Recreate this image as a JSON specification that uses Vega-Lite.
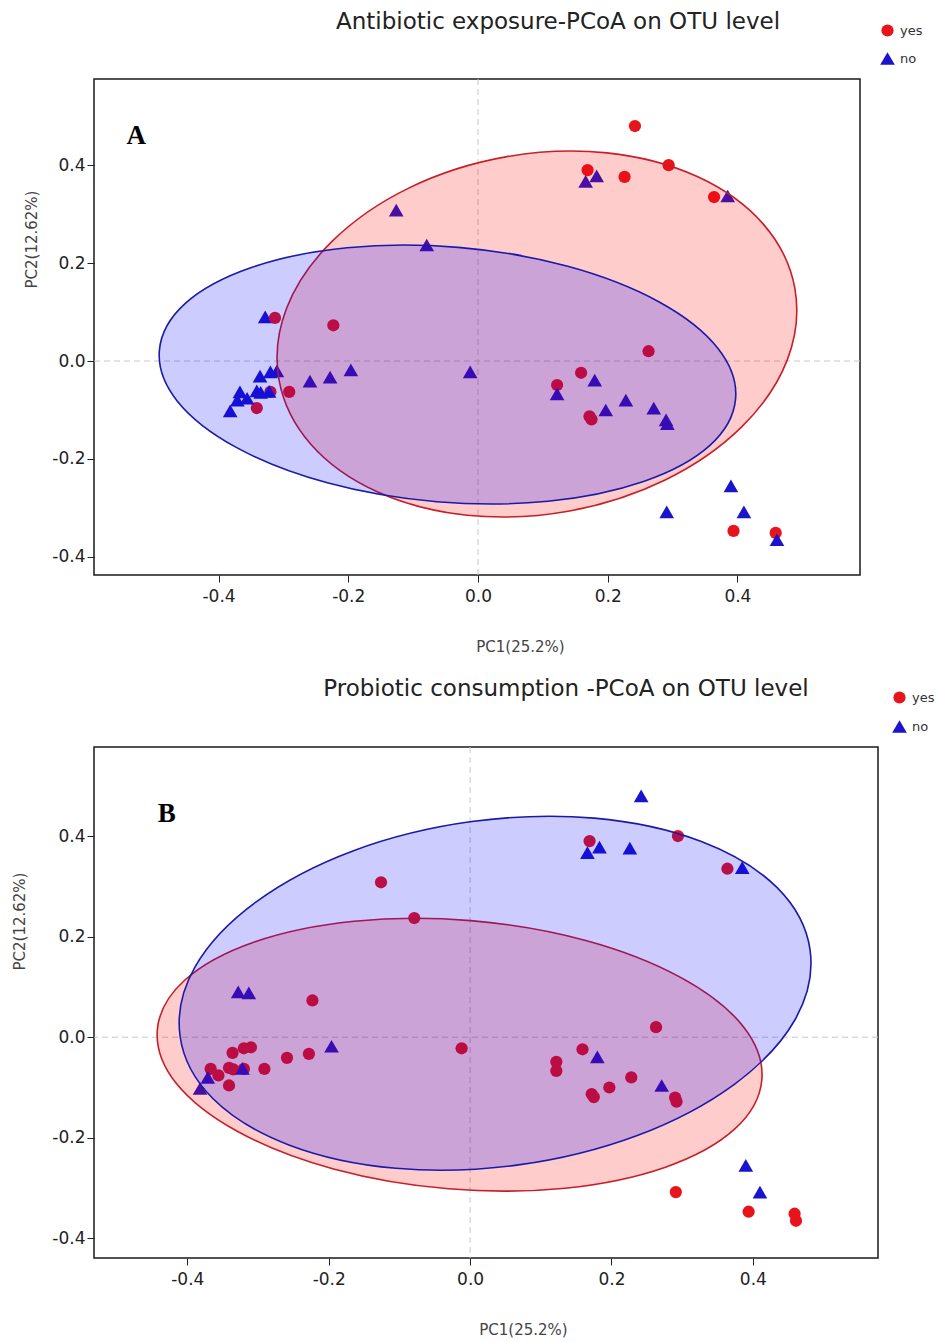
{
  "$schema": "https://vega.github.io/schema/vega-lite/v6.json",
  "background": "white",
  "padding": {"left": 11, "top": 10, "right": 5, "bottom": 2},
  "spacing": 22,
  "resolve": {
    "scale": {"color": "independent", "shape": "independent", "size": "independent"},
    "legend": {"color": "independent", "shape": "independent", "size": "independent"}
  },
  "datasets": {
    "samples": [
      {"pc1": 0.242, "pc2": 0.480, "antibiotic": "yes", "probiotic": "no"},
      {"pc1": 0.169, "pc2": 0.390, "antibiotic": "yes", "probiotic": "yes"},
      {"pc1": 0.226, "pc2": 0.376, "antibiotic": "yes", "probiotic": "no"},
      {"pc1": 0.294, "pc2": 0.400, "antibiotic": "yes", "probiotic": "yes"},
      {"pc1": 0.364, "pc2": 0.335, "antibiotic": "yes", "probiotic": "yes"},
      {"pc1": 0.166, "pc2": 0.367, "antibiotic": "no", "probiotic": "no"},
      {"pc1": 0.183, "pc2": 0.378, "antibiotic": "no", "probiotic": "no"},
      {"pc1": 0.385, "pc2": 0.337, "antibiotic": "no", "probiotic": "no"},
      {"pc1": -0.126, "pc2": 0.308, "antibiotic": "no", "probiotic": "yes"},
      {"pc1": -0.079, "pc2": 0.237, "antibiotic": "no", "probiotic": "yes"},
      {"pc1": -0.328, "pc2": 0.090, "antibiotic": "no", "probiotic": "no"},
      {"pc1": -0.313, "pc2": 0.088, "antibiotic": "yes", "probiotic": "no"},
      {"pc1": -0.223, "pc2": 0.073, "antibiotic": "yes", "probiotic": "yes"},
      {"pc1": 0.263, "pc2": 0.020, "antibiotic": "yes", "probiotic": "yes"},
      {"pc1": 0.159, "pc2": -0.024, "antibiotic": "yes", "probiotic": "yes"},
      {"pc1": 0.122, "pc2": -0.049, "antibiotic": "yes", "probiotic": "yes"},
      {"pc1": 0.122, "pc2": -0.067, "antibiotic": "no", "probiotic": "yes"},
      {"pc1": 0.180, "pc2": -0.039, "antibiotic": "no", "probiotic": "no"},
      {"pc1": 0.197, "pc2": -0.100, "antibiotic": "no", "probiotic": "yes"},
      {"pc1": 0.228, "pc2": -0.080, "antibiotic": "no", "probiotic": "yes"},
      {"pc1": 0.271, "pc2": -0.096, "antibiotic": "no", "probiotic": "no"},
      {"pc1": 0.290, "pc2": -0.120, "antibiotic": "no", "probiotic": "yes"},
      {"pc1": 0.292, "pc2": -0.128, "antibiotic": "no", "probiotic": "yes"},
      {"pc1": 0.172, "pc2": -0.113, "antibiotic": "yes", "probiotic": "yes"},
      {"pc1": 0.175, "pc2": -0.119, "antibiotic": "yes", "probiotic": "yes"},
      {"pc1": 0.291, "pc2": -0.308, "antibiotic": "no", "probiotic": "yes"},
      {"pc1": 0.390, "pc2": -0.255, "antibiotic": "no", "probiotic": "no"},
      {"pc1": 0.410, "pc2": -0.308, "antibiotic": "no", "probiotic": "no"},
      {"pc1": 0.394, "pc2": -0.347, "antibiotic": "yes", "probiotic": "yes"},
      {"pc1": 0.459, "pc2": -0.351, "antibiotic": "yes", "probiotic": "yes"},
      {"pc1": 0.461, "pc2": -0.365, "antibiotic": "no", "probiotic": "yes"},
      {"pc1": -0.012, "pc2": -0.022, "antibiotic": "no", "probiotic": "yes"},
      {"pc1": -0.196, "pc2": -0.018, "antibiotic": "no", "probiotic": "no"},
      {"pc1": -0.228, "pc2": -0.033, "antibiotic": "no", "probiotic": "yes"},
      {"pc1": -0.259, "pc2": -0.041, "antibiotic": "no", "probiotic": "yes"},
      {"pc1": -0.320, "pc2": -0.022, "antibiotic": "no", "probiotic": "yes"},
      {"pc1": -0.336, "pc2": -0.031, "antibiotic": "no", "probiotic": "yes"},
      {"pc1": -0.320, "pc2": -0.063, "antibiotic": "yes", "probiotic": "yes"},
      {"pc1": -0.291, "pc2": -0.063, "antibiotic": "yes", "probiotic": "yes"},
      {"pc1": -0.341, "pc2": -0.096, "antibiotic": "yes", "probiotic": "yes"},
      {"pc1": -0.367, "pc2": -0.063, "antibiotic": "no", "probiotic": "yes"},
      {"pc1": -0.341, "pc2": -0.061, "antibiotic": "no", "probiotic": "yes"},
      {"pc1": -0.371, "pc2": -0.080, "antibiotic": "no", "probiotic": "no"},
      {"pc1": -0.382, "pc2": -0.102, "antibiotic": "no", "probiotic": "no"},
      {"pc1": -0.356, "pc2": -0.076, "antibiotic": "no", "probiotic": "yes"},
      {"pc1": -0.335, "pc2": -0.064, "antibiotic": "no", "probiotic": "yes"},
      {"pc1": -0.322, "pc2": -0.062, "antibiotic": "no", "probiotic": "no"},
      {"pc1": -0.310, "pc2": -0.020, "antibiotic": "no", "probiotic": "yes"}
    ],
    "ellipses": [
      {"panel": "A", "group": "yes", "i": 0, "pc1": 0.4886, "pc2": 0.1482},
      {"panel": "A", "group": "yes", "i": 1, "pc1": 0.4769, "pc2": 0.0024},
      {"panel": "A", "group": "yes", "i": 2, "pc1": 0.4062, "pc2": -0.1351},
      {"panel": "A", "group": "yes", "i": 3, "pc1": 0.2878, "pc2": -0.2435},
      {"panel": "A", "group": "yes", "i": 4, "pc1": 0.1391, "pc2": -0.3067},
      {"panel": "A", "group": "yes", "i": 5, "pc1": -0.0169, "pc2": -0.3149},
      {"panel": "A", "group": "yes", "i": 6, "pc1": -0.1562, "pc2": -0.2665},
      {"panel": "A", "group": "yes", "i": 7, "pc1": -0.2581, "pc2": -0.1694},
      {"panel": "A", "group": "yes", "i": 8, "pc1": -0.3068, "pc2": -0.0380},
      {"panel": "A", "group": "yes", "i": 9, "pc1": -0.2951, "pc2": 0.1078},
      {"panel": "A", "group": "yes", "i": 10, "pc1": -0.2243, "pc2": 0.2453},
      {"panel": "A", "group": "yes", "i": 11, "pc1": -0.1060, "pc2": 0.3537},
      {"panel": "A", "group": "yes", "i": 12, "pc1": 0.0427, "pc2": 0.4169},
      {"panel": "A", "group": "yes", "i": 13, "pc1": 0.1988, "pc2": 0.4251},
      {"panel": "A", "group": "yes", "i": 14, "pc1": 0.3381, "pc2": 0.3767},
      {"panel": "A", "group": "yes", "i": 15, "pc1": 0.4399, "pc2": 0.2796},
      {"panel": "A", "group": "no", "i": 0, "pc1": 0.3972, "pc2": -0.0769},
      {"panel": "A", "group": "no", "i": 1, "pc1": 0.3572, "pc2": -0.1729},
      {"panel": "A", "group": "no", "i": 2, "pc1": 0.2553, "pc2": -0.2461},
      {"panel": "A", "group": "no", "i": 3, "pc1": 0.1079, "pc2": -0.2865},
      {"panel": "A", "group": "no", "i": 4, "pc1": -0.0635, "pc2": -0.2873},
      {"panel": "A", "group": "no", "i": 5, "pc1": -0.2324, "pc2": -0.2486},
      {"panel": "A", "group": "no", "i": 6, "pc1": -0.3727, "pc2": -0.1763},
      {"panel": "A", "group": "no", "i": 7, "pc1": -0.4638, "pc2": -0.0814},
      {"panel": "A", "group": "no", "i": 8, "pc1": -0.4912, "pc2": 0.0218},
      {"panel": "A", "group": "no", "i": 9, "pc1": -0.4512, "pc2": 0.1178},
      {"panel": "A", "group": "no", "i": 10, "pc1": -0.3493, "pc2": 0.1910},
      {"panel": "A", "group": "no", "i": 11, "pc1": -0.2018, "pc2": 0.2314},
      {"panel": "A", "group": "no", "i": 12, "pc1": -0.0305, "pc2": 0.2322},
      {"panel": "A", "group": "no", "i": 13, "pc1": 0.1384, "pc2": 0.1935},
      {"panel": "A", "group": "no", "i": 14, "pc1": 0.2787, "pc2": 0.1212},
      {"panel": "A", "group": "no", "i": 15, "pc1": 0.3698, "pc2": 0.0263},
      {"panel": "B", "group": "yes", "i": 0, "pc1": 0.4127, "pc2": -0.0845},
      {"panel": "B", "group": "yes", "i": 1, "pc1": 0.3741, "pc2": -0.1829},
      {"panel": "B", "group": "yes", "i": 2, "pc1": 0.2764, "pc2": -0.2584},
      {"panel": "B", "group": "yes", "i": 3, "pc1": 0.1344, "pc2": -0.3002},
      {"panel": "B", "group": "yes", "i": 4, "pc1": -0.0306, "pc2": -0.3014},
      {"panel": "B", "group": "yes", "i": 5, "pc1": -0.1932, "pc2": -0.2620},
      {"panel": "B", "group": "yes", "i": 6, "pc1": -0.3281, "pc2": -0.1881},
      {"panel": "B", "group": "yes", "i": 7, "pc1": -0.4160, "pc2": -0.0911},
      {"panel": "B", "group": "yes", "i": 8, "pc1": -0.4424, "pc2": 0.0149},
      {"panel": "B", "group": "yes", "i": 9, "pc1": -0.4038, "pc2": 0.1133},
      {"panel": "B", "group": "yes", "i": 10, "pc1": -0.3061, "pc2": 0.1889},
      {"panel": "B", "group": "yes", "i": 11, "pc1": -0.1641, "pc2": 0.2306},
      {"panel": "B", "group": "yes", "i": 12, "pc1": 0.0008, "pc2": 0.2318},
      {"panel": "B", "group": "yes", "i": 13, "pc1": 0.1635, "pc2": 0.1924},
      {"panel": "B", "group": "yes", "i": 14, "pc1": 0.2984, "pc2": 0.1185},
      {"panel": "B", "group": "yes", "i": 15, "pc1": 0.3863, "pc2": 0.0215},
      {"panel": "B", "group": "no", "i": 0, "pc1": 0.4810, "pc2": 0.1726},
      {"panel": "B", "group": "no", "i": 1, "pc1": 0.4598, "pc2": 0.0352},
      {"panel": "B", "group": "no", "i": 2, "pc1": 0.3738, "pc2": -0.0936},
      {"panel": "B", "group": "no", "i": 3, "pc1": 0.2365, "pc2": -0.1954},
      {"panel": "B", "group": "no", "i": 4, "pc1": 0.0683, "pc2": -0.2539},
      {"panel": "B", "group": "no", "i": 5, "pc1": -0.1049, "pc2": -0.2606},
      {"panel": "B", "group": "no", "i": 6, "pc1": -0.2564, "pc2": -0.2141},
      {"panel": "B", "group": "no", "i": 7, "pc1": -0.3639, "pc2": -0.1219},
      {"panel": "B", "group": "no", "i": 8, "pc1": -0.4103, "pc2": 0.0024},
      {"panel": "B", "group": "no", "i": 9, "pc1": -0.3891, "pc2": 0.1398},
      {"panel": "B", "group": "no", "i": 10, "pc1": -0.3031, "pc2": 0.2686},
      {"panel": "B", "group": "no", "i": 11, "pc1": -0.1658, "pc2": 0.3704},
      {"panel": "B", "group": "no", "i": 12, "pc1": 0.0024, "pc2": 0.4288},
      {"panel": "B", "group": "no", "i": 13, "pc1": 0.1757, "pc2": 0.4356},
      {"panel": "B", "group": "no", "i": 14, "pc1": 0.3272, "pc2": 0.3891},
      {"panel": "B", "group": "no", "i": 15, "pc1": 0.4347, "pc2": 0.2968}
    ]
  },
  "vconcat": [
    {
      "width": 766,
      "height": 496,
      "title": {"text": "Antibiotic exposure-PCoA on OTU level", "frame": "group", "anchor": "middle", "dx": 81, "offset": 0, "dy": 21, "baseline": "middle", "font": "DejaVu Sans", "fontSize": 23, "fontWeight": "normal", "color": "#222"},
      "layer": [
        {"data": {"values": [{}]}, "mark": {"type": "rule", "stroke": "#c8c8c8", "strokeDash": [6, 4], "strokeWidth": 1}, "encoding": {"x": {"datum": 0, "type": "quantitative"}}},
        {"data": {"values": [{}]}, "mark": {"type": "rule", "stroke": "#c8c8c8", "strokeDash": [6, 4], "strokeWidth": 1}, "encoding": {"y": {"datum": 0, "type": "quantitative"}}},
        {
          "data": {"name": "samples"},
          "mark": {"type": "point", "filled": true, "opacity": 1, "strokeWidth": 0},
          "encoding": {
            "x": {"field": "pc1", "type": "quantitative", "scale": {"domain": [-0.592, 0.589], "nice": false, "zero": false},
              "axis": {"values": [-0.4, -0.2, 0, 0.2, 0.4], "labelExpr": "datum.value < 0 ? '-' + format(-datum.value, '.1f') : format(datum.value, '.1f')", "title": "PC1(25.2%)", "titleX": 426, "titleY": 71, "titleBaseline": "middle", "titleAlign": "center", "labelPadding": 6}},
            "y": {"field": "pc2", "type": "quantitative", "scale": {"domain": [-0.437, 0.576], "nice": false, "zero": false},
              "axis": {"values": [-0.4, -0.2, 0, 0.2, 0.4], "labelExpr": "datum.value < 0 ? '-' + format(-datum.value, '.1f') : format(datum.value, '.1f')", "title": "PC2(12.62%)", "titleX": -63, "titleY": 160, "titleBaseline": "middle", "titleAlign": "center", "labelPadding": 2}},
            "color": {"field": "antibiotic", "type": "nominal", "scale": {"domain": ["yes", "no"], "range": ["#e8141c", "#1a14cc"]},
              "legend": {"title": null, "orient": "none", "legendX": 786, "legendY": -55, "symbolSize": 150, "labelFont": "DejaVu Sans", "labelFontSize": 13, "labelColor": "#333", "rowPadding": 13, "labelOffset": 5, "padding": 0, "symbolStrokeWidth": 0}},
            "shape": {"field": "antibiotic", "type": "nominal", "scale": {"domain": ["yes", "no"], "range": ["circle", "triangle-up"]}},
            "size": {"field": "antibiotic", "type": "nominal", "scale": {"domain": ["yes", "no"], "range": [150, 215]}, "legend": null}
          }
        },
        {
          "data": {"name": "ellipses"},
          "transform": [{"filter": "datum.panel === 'A' && datum.group === 'yes'"}],
          "mark": {"type": "line", "interpolate": "cardinal-closed", "stroke": "#c81e28", "strokeWidth": 1.6, "fill": "#ff0000", "fillOpacity": 0.2},
          "encoding": {"x": {"field": "pc1", "type": "quantitative"}, "y": {"field": "pc2", "type": "quantitative"}, "order": {"field": "i", "type": "quantitative"}}
        },
        {
          "data": {"name": "ellipses"},
          "transform": [{"filter": "datum.panel === 'A' && datum.group === 'no'"}],
          "mark": {"type": "line", "interpolate": "cardinal-closed", "stroke": "#1a1aa8", "strokeWidth": 1.6, "fill": "#0000ff", "fillOpacity": 0.2},
          "encoding": {"x": {"field": "pc1", "type": "quantitative"}, "y": {"field": "pc2", "type": "quantitative"}, "order": {"field": "i", "type": "quantitative"}}
        },
        {
          "data": {"values": [{"label": "A"}]},
          "mark": {"type": "text", "font": "Liberation Serif", "fontWeight": "bold", "fontSize": 27, "color": "#000"},
          "encoding": {"x": {"datum": -0.527, "type": "quantitative"}, "y": {"datum": 0.459, "type": "quantitative"}, "text": {"field": "label"}}
        }
      ]
    },
    {
      "width": 784,
      "height": 511,
      "title": {"text": "Probiotic consumption -PCoA on OTU level", "frame": "group", "anchor": "middle", "dx": 80, "offset": 0, "dy": 21, "baseline": "middle", "font": "DejaVu Sans", "fontSize": 23, "fontWeight": "normal", "color": "#222"},
      "layer": [
        {"data": {"values": [{}]}, "mark": {"type": "rule", "stroke": "#c8c8c8", "strokeDash": [6, 4], "strokeWidth": 1}, "encoding": {"x": {"datum": 0, "type": "quantitative"}}},
        {"data": {"values": [{}]}, "mark": {"type": "rule", "stroke": "#c8c8c8", "strokeDash": [6, 4], "strokeWidth": 1}, "encoding": {"y": {"datum": 0, "type": "quantitative"}}},
        {
          "data": {"name": "samples"},
          "mark": {"type": "point", "filled": true, "opacity": 1, "strokeWidth": 0},
          "encoding": {
            "x": {"field": "pc1", "type": "quantitative", "scale": {"domain": [-0.532, 0.577], "nice": false, "zero": false},
              "axis": {"values": [-0.4, -0.2, 0, 0.2, 0.4], "labelExpr": "datum.value < 0 ? '-' + format(-datum.value, '.1f') : format(datum.value, '.1f')", "title": "PC1(25.2%)", "titleX": 429, "titleY": 71, "titleBaseline": "middle", "titleAlign": "center", "labelPadding": 6}},
            "y": {"field": "pc2", "type": "quantitative", "scale": {"domain": [-0.439, 0.577], "nice": false, "zero": false},
              "axis": {"values": [-0.4, -0.2, 0, 0.2, 0.4], "labelExpr": "datum.value < 0 ? '-' + format(-datum.value, '.1f') : format(datum.value, '.1f')", "title": "PC2(12.62%)", "titleX": -75, "titleY": 174, "titleBaseline": "middle", "titleAlign": "center", "labelPadding": 2}},
            "color": {"field": "probiotic", "type": "nominal", "scale": {"domain": ["yes", "no"], "range": ["#e8141c", "#1a14cc"]},
              "legend": {"title": null, "orient": "none", "legendX": 798, "legendY": -56, "symbolSize": 150, "labelFont": "DejaVu Sans", "labelFontSize": 13, "labelColor": "#333", "rowPadding": 14, "labelOffset": 5, "padding": 0, "symbolStrokeWidth": 0}},
            "shape": {"field": "probiotic", "type": "nominal", "scale": {"domain": ["yes", "no"], "range": ["circle", "triangle-up"]}},
            "size": {"field": "probiotic", "type": "nominal", "scale": {"domain": ["yes", "no"], "range": [150, 215]}, "legend": null}
          }
        },
        {
          "data": {"name": "ellipses"},
          "transform": [{"filter": "datum.panel === 'B' && datum.group === 'yes'"}],
          "mark": {"type": "line", "interpolate": "cardinal-closed", "stroke": "#c81e28", "strokeWidth": 1.6, "fill": "#ff0000", "fillOpacity": 0.2},
          "encoding": {"x": {"field": "pc1", "type": "quantitative"}, "y": {"field": "pc2", "type": "quantitative"}, "order": {"field": "i", "type": "quantitative"}}
        },
        {
          "data": {"name": "ellipses"},
          "transform": [{"filter": "datum.panel === 'B' && datum.group === 'no'"}],
          "mark": {"type": "line", "interpolate": "cardinal-closed", "stroke": "#1a1aa8", "strokeWidth": 1.6, "fill": "#0000ff", "fillOpacity": 0.2},
          "encoding": {"x": {"field": "pc1", "type": "quantitative"}, "y": {"field": "pc2", "type": "quantitative"}, "order": {"field": "i", "type": "quantitative"}}
        },
        {
          "data": {"values": [{"label": "B"}]},
          "mark": {"type": "text", "font": "Liberation Serif", "fontWeight": "bold", "fontSize": 27, "color": "#000"},
          "encoding": {"x": {"datum": -0.429, "type": "quantitative"}, "y": {"datum": 0.443, "type": "quantitative"}, "text": {"field": "label"}}
        }
      ]
    }
  ],
  "config": {
    "font": "DejaVu Sans",
    "view": {"stroke": "#1a1a1a", "strokeWidth": 1.5},
    "axis": {"domain": false, "grid": false, "ticks": true, "tickColor": "#222", "tickSize": 7, "tickWidth": 1, "labelFont": "DejaVu Sans", "labelFontSize": 17, "labelColor": "#222", "titleFont": "DejaVu Sans", "titleFontSize": 15, "titleColor": "#444", "titleFontWeight": "normal", "labelFlush": false}
  }
}
